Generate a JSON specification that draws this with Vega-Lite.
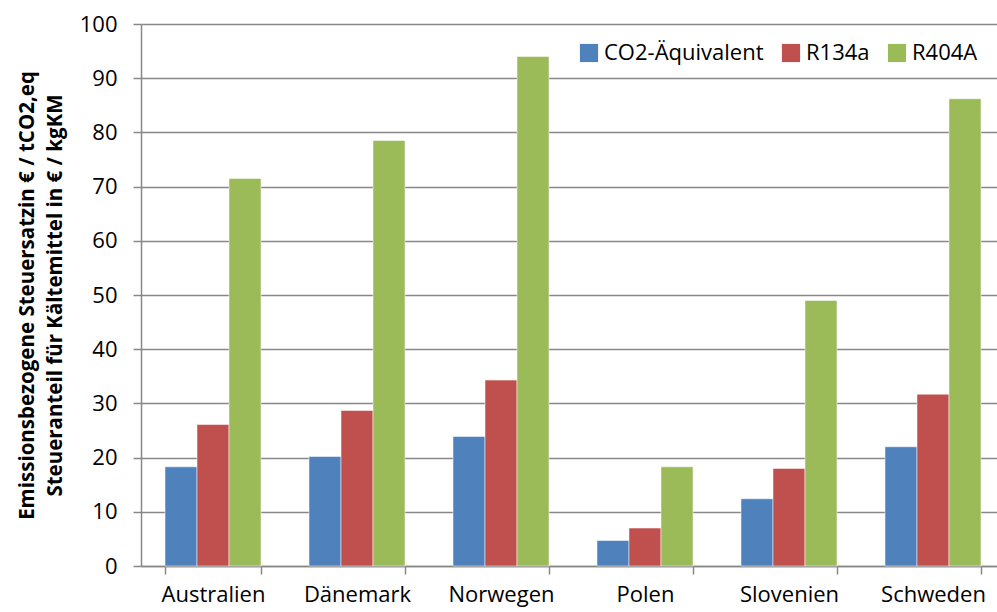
{
  "$schema": "https://vega.github.io/schema/vega-lite/v6.json",
  "width": 856,
  "height": 542,
  "autosize": {"type": "none"},
  "padding": {"left": 141, "top": 24, "right": 0, "bottom": 46},
  "background": "white",
  "config": {
    "font": "Open Sans",
    "view": {"stroke": null},
    "axis": {"labelFont": "Open Sans", "titleFont": "Open Sans", "labelColor": "#000", "titleColor": "#000"},
    "legend": {"labelFont": "Open Sans"}
  },
  "data": {
    "values": [
      {"land": "Australien", "serie": "CO2-Äquivalent", "wert": 18.3},
      {"land": "Australien", "serie": "R134a", "wert": 26.1},
      {"land": "Australien", "serie": "R404A", "wert": 71.5},
      {"land": "Dänemark", "serie": "CO2-Äquivalent", "wert": 20.2},
      {"land": "Dänemark", "serie": "R134a", "wert": 28.7},
      {"land": "Dänemark", "serie": "R404A", "wert": 78.5},
      {"land": "Norwegen", "serie": "CO2-Äquivalent", "wert": 23.9},
      {"land": "Norwegen", "serie": "R134a", "wert": 34.3},
      {"land": "Norwegen", "serie": "R404A", "wert": 94.0},
      {"land": "Polen", "serie": "CO2-Äquivalent", "wert": 4.7},
      {"land": "Polen", "serie": "R134a", "wert": 7.0},
      {"land": "Polen", "serie": "R404A", "wert": 18.3},
      {"land": "Slovenien", "serie": "CO2-Äquivalent", "wert": 12.4},
      {"land": "Slovenien", "serie": "R134a", "wert": 18.0},
      {"land": "Slovenien", "serie": "R404A", "wert": 49.0},
      {"land": "Schweden", "serie": "CO2-Äquivalent", "wert": 22.0},
      {"land": "Schweden", "serie": "R134a", "wert": 31.7},
      {"land": "Schweden", "serie": "R404A", "wert": 86.2}
    ]
  },
  "mark": {"type": "bar", "stroke": "white", "strokeWidth": 0.5},
  "encoding": {
    "x": {
      "field": "land",
      "type": "nominal",
      "sort": null,
      "scale": {"range": [0, 864], "paddingInner": 0.3333, "paddingOuter": 0.1667},
      "axis": {
        "title": null,
        "labelAngle": 0,
        "labelFontSize": 22,
        "labelPadding": 10,
        "tickBand": "extent",
        "tickSize": 8,
        "tickColor": "#888",
        "tickWidth": 1.5,
        "domainColor": "#888",
        "domainWidth": 1.5,
        "grid": false
      }
    },
    "xOffset": {"field": "serie", "type": "nominal", "sort": null},
    "y": {
      "field": "wert",
      "type": "quantitative",
      "scale": {"domain": [0, 100], "nice": false},
      "axis": {
        "values": [0, 10, 20, 30, 40, 50, 60, 70, 80, 90, 100],
        "title": ["Emissionsbezogene  Steuersatzin € / tCO2,eq", "Steueranteil für Kältemittel in € / kgKM"],
        "titleFontSize": 20.5,
        "titleFontWeight": "bold",
        "titlePadding": 14,
        "titleLineHeight": 28,
        "labelFontSize": 22,
        "labelPadding": 16,
        "tickSize": 8,
        "tickColor": "#888",
        "tickWidth": 1.5,
        "domainColor": "#888",
        "domainWidth": 1.5,
        "gridColor": "#888",
        "gridWidth": 1.5
      }
    },
    "color": {
      "field": "serie",
      "type": "nominal",
      "sort": null,
      "scale": {"domain": ["CO2-Äquivalent", "R134a", "R404A"], "range": ["#4F81BD", "#C0504D", "#9BBB59"]},
      "legend": {
        "title": null,
        "orient": "none",
        "legendX": 437,
        "legendY": 18,
        "direction": "horizontal",
        "symbolType": "square",
        "symbolSize": 330,
        "symbolStrokeWidth": 0,
        "labelFontSize": 22,
        "labelColor": "#000",
        "columnPadding": 16,
        "labelOffset": 4,
        "fillColor": "white"
      }
    }
  }
}
